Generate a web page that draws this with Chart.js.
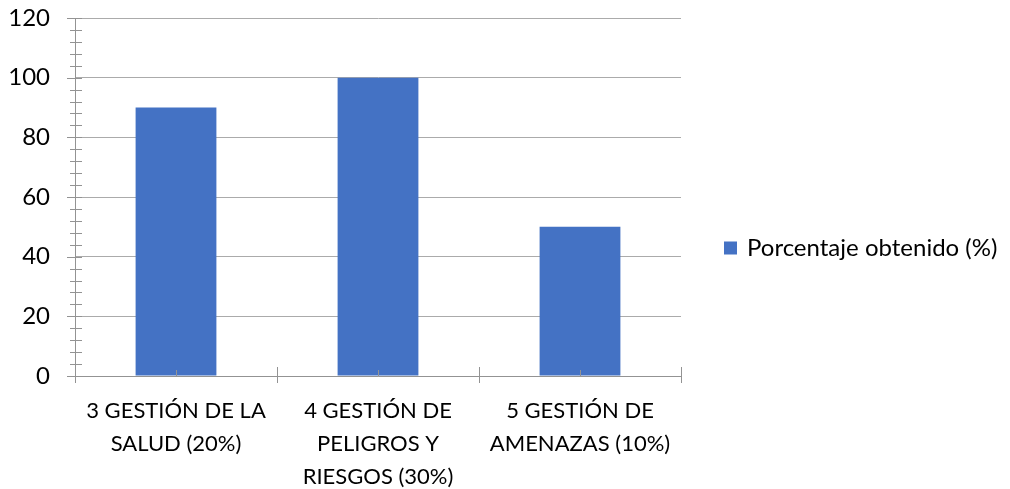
<!DOCTYPE html>
<html>
<head>
<meta charset="utf-8">
<script src="https://cdn.jsdelivr.net/npm/chart.js@4/dist/chart.umd.min.js"></script>
<style>
  html, body { margin: 0; padding: 0; background: #fff; }
  #wrap { width: 1010px; height: 489px; }
</style>
</head>
<body>
<div id="wrap"><canvas id="myChart" width="1010" height="489"></canvas></div>
<script>
// data
const categories = [
  ["3 GESTIÓN DE LA", "SALUD (20%)"],
  ["4 GESTIÓN DE", "PELIGROS Y", "RIESGOS (30%)"],
  ["5 GESTIÓN DE", "AMENAZAS (10%)"]
];
const seriesName = "Porcentaje obtenido (%)";
const seriesValues = [90, 100, 50];
const yMin = 0;
const yMax = 120;
const yStep = 20;
const yMinorStep = 4;

const gridGray = "#ababab";
const axisGray = "#939393";
const barBlue = "#4472c4";
const fontFamily = "Lato, 'Open Sans', sans-serif";

// tick marks crossing the axes, like the office-style chart
const tickMarks = {
  id: "tickMarks",
  afterDatasetsDraw(chart) {
    const ctx = chart.ctx;
    const x = chart.scales.x;
    const y = chart.scales.y;
    const ax = x.left;       // y axis position
    const ay = y.bottom;     // x axis position
    ctx.save();
    ctx.strokeStyle = axisGray;
    ctx.lineWidth = 1;
    ctx.beginPath();
    // y ticks (major + minor)
    for (let v = yMin; v <= yMax; v += yMinorStep) {
      const py = Math.round(y.getPixelForValue(v)) + 0.5;
      const major = v % yStep === 0;
      ctx.moveTo(ax - (major ? 8 : 5), py);
      ctx.lineTo(ax + 7, py);
    }
    // x ticks at category boundaries and centers
    const n = categories.length;
    const w = (x.right - x.left) / n;
    for (let i = 0; i <= n; i++) {
      const px = Math.round(x.left + i * w) + 0.5;
      ctx.moveTo(px, ay - 9);
      ctx.lineTo(px, ay + 7);
    }
    for (let i = 0; i < n; i++) {
      const px = Math.round(x.getPixelForValue(i)) + 0.5;
      ctx.moveTo(px, ay - 6);
      ctx.lineTo(px, ay);
    }
    ctx.stroke();
    ctx.restore();
  }
};

// simple legend on the right, from the dataset itself
const sideLegend = {
  id: "sideLegend",
  afterDraw(chart) {
    const ctx = chart.ctx;
    const ds = chart.data.datasets[0];
    const cy = chart.height / 2 + 4;
    const bx = chart.chartArea.right + 43;
    ctx.save();
    ctx.fillStyle = ds.backgroundColor;
    ctx.fillRect(bx, cy - 7, 13, 13);
    ctx.fillStyle = "#000";
    ctx.font = "24px " + fontFamily;
    ctx.textBaseline = "middle";
    ctx.fillText(ds.label, bx + 23, cy);
    ctx.restore();
  }
};

const build = () => {
  Chart.defaults.font.family = fontFamily;
  Chart.defaults.color = "#000";

  const data = {
    labels: categories,
    datasets: [{
      label: seriesName,
      data: seriesValues,
      backgroundColor: barBlue,
      borderWidth: 0,
      categoryPercentage: 1.0,
      barPercentage: 0.4
    }]
  };

  const config = {
    type: "bar",
    data: data,
    plugins: [tickMarks, sideLegend],
    options: {
      responsive: false,
      animation: false,
      layout: { padding: { top: 0, right: 329, left: 0, bottom: 0 } },
      plugins: {
        tooltip: { enabled: false },
        legend: { display: false }
      },
      scales: {
        x: {
          grid: { display: false, drawTicks: false },
          border: { display: true, color: axisGray },
          ticks: {
            maxRotation: 0,
            autoSkip: false,
            padding: 18,
            font: { size: 22, lineHeight: 1.5 }
          },
          afterFit: (scale) => { scale.height = 113; scale.paddingLeft = 0; scale.paddingRight = 0; }
        },
        y: {
          min: yMin,
          max: yMax,
          grid: { color: gridGray, drawTicks: false },
          border: { display: true, color: axisGray },
          ticks: {
            stepSize: yStep,
            padding: 25,
            font: { size: 24 }
          },
          afterFit: (scale) => { scale.width = 75; scale.paddingTop = 18; scale.paddingBottom = 0; }
        }
      }
    }
  };

  new Chart(document.getElementById("myChart"), config);
};

window.onload = () => {
  Promise.all([
    document.fonts.load("22px Lato"),
    document.fonts.load("24px Lato")
  ]).then(build, build);
};
</script>
</body>
</html>
